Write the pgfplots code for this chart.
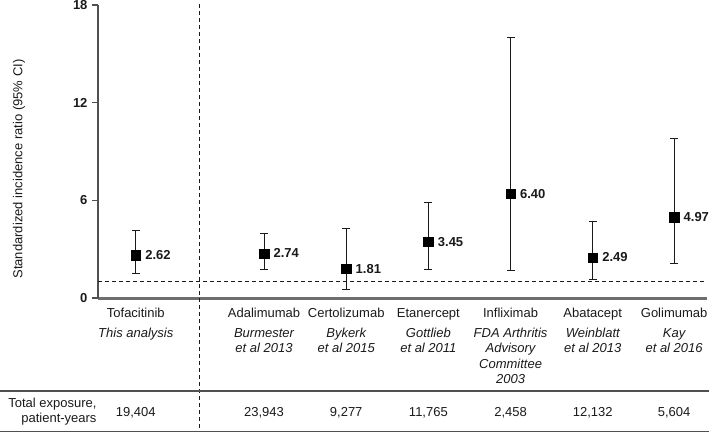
\documentclass[border=0pt]{standalone}
\usepackage{fontspec}
\setmainfont{Liberation Sans}
\usepackage{pgfplots}
\usepackage{pgfplotstable}
\pgfplotsset{compat=1.18}
\definecolor{txt}{HTML}{1A1A1A}
\definecolor{axg}{HTML}{505050}
\definecolor{botg}{HTML}{6E6E6E}
\pgfplotstableread{
x y ep em lab
0 2.62 1.51 1.10 2.62
1.56 2.74 1.23 0.96 2.74
2.56 1.81 2.43 1.26 1.81
3.56 3.45 2.43 1.69 3.45
4.56 6.40 9.60 4.70 6.40
5.56 2.49 2.20 1.34 2.49
6.55 4.97 4.82 2.84 4.97
}\sir
\newcommand\tl[3]{\node[anchor=base,text=txt,font=\fontsize{13}{13}\selectfont] at (axis cs:#1,0) [yshift=#2] {#3};}
\newcommand\il[3]{\node[anchor=base,text=txt,font=\itshape\fontsize{13}{13}\selectfont] at (axis cs:#1,0) [yshift=#2] {#3};}
\begin{document}
\begin{tikzpicture}
\useasboundingbox (0,0) rectangle (709pt,432pt);
\begin{axis}[
  at={(98pt,134pt)}, anchor=south west,
  scale only axis, width=609pt, height=293pt,
  xmin=-0.46, xmax=6.95, ymin=0, ymax=18,
  axis lines=left, axis line style={-},
  y axis line style={axg, line width=1.1pt},
  x axis line style={botg, line width=3pt},
  xtick=\empty,
  ytick={0,6,12,18},
  tick align=outside, major tick length=6pt,
  tick style={axg, line width=1.1pt},
  ytick style={axg, line width=1.1pt},
  /pgf/number format/assume math mode=true,
  yticklabel style={font=\bfseries\fontsize{13}{13}\selectfont, text=txt, xshift=-1pt},
  ylabel={Standardized incidence ratio (95\% CI)},
  every axis y label/.append style={at={(axis description cs:-0.1297,0.44)}, anchor=center, rotate=0, font=\fontsize{13}{13}\selectfont, text=txt},
  clip=false,
]
\draw[dashed, line width=0.9pt, txt, dash pattern=on 4pt off 3pt] (axis cs:-0.46,1) -- (axis cs:6.95,1);
\draw[dashed, line width=0.9pt, txt, dash pattern=on 4pt off 3pt] (axis cs:0.78,18.06) -- (axis cs:0.78,-8.2);
\addplot[only marks, mark=square*, mark size=4.7pt, mark options={fill=black, draw=black},
  error bars/.cd, y dir=both, y explicit,
  error bar style={line width=1pt, txt},
  error mark options={rotate=90, mark size=4pt, line width=1pt, txt}]
  table[x=x, y=y, y error plus=ep, y error minus=em] {\sir};
\addplot[only marks, mark=none, point meta=explicit symbolic,
  nodes near coords, nodes near coords align={anchor=west},
  every node near coord/.append style={anchor=west, xshift=6pt, font=\bfseries\fontsize{13}{13}\selectfont, text=txt}]
  table[x=x, y=y, meta=lab] {\sir};
% category labels
\tl{0}{-19pt}{Tofacitinib}
\il{0}{-39.5pt}{This analysis}
\tl{1.56}{-19pt}{Adalimumab}
\il{1.56}{-39.5pt}{Burmester}
\il{1.56}{-54.8pt}{et al 2013}
\tl{2.56}{-19pt}{Certolizumab}
\il{2.56}{-39.5pt}{Bykerk}
\il{2.56}{-54.8pt}{et al 2015}
\tl{3.56}{-19pt}{Etanercept}
\il{3.56}{-39.5pt}{Gottlieb}
\il{3.56}{-54.8pt}{et al 2011}
\tl{4.56}{-19pt}{Infliximab}
\il{4.56}{-39.5pt}{FDA Arthritis}
\il{4.56}{-54.8pt}{Advisory}
\il{4.56}{-70.1pt}{Committee}
\il{4.56}{-85.4pt}{2003}
\tl{5.56}{-19pt}{Abatacept}
\il{5.56}{-39.5pt}{Weinblatt}
\il{5.56}{-54.8pt}{et al 2013}
\tl{6.55}{-19pt}{Golimumab}
\il{6.55}{-39.5pt}{Kay}
\il{6.55}{-54.8pt}{et al 2016}
% exposure
\tl{0}{-118pt}{19,404}
\tl{1.56}{-118pt}{23,943}
\tl{2.56}{-118pt}{9,277}
\tl{3.56}{-118pt}{11,765}
\tl{4.56}{-118pt}{2,458}
\tl{5.56}{-118pt}{12,132}
\tl{6.55}{-118pt}{5,604}
\end{axis}
\draw[axg, line width=1.2pt] (0,41pt) -- (709pt,41pt);
\draw[axg, line width=1.4pt] (0,0.8pt) -- (709pt,0.8pt);
\node[anchor=base east, text=txt, font=\fontsize{13}{13}\selectfont, inner sep=0pt] at (96.7pt,24.7pt) {Total exposure,};
\node[anchor=base east, text=txt, font=\fontsize{13}{13}\selectfont, inner sep=0pt] at (96.7pt,9.3pt) {patient-years};
\end{tikzpicture}
\end{document}
